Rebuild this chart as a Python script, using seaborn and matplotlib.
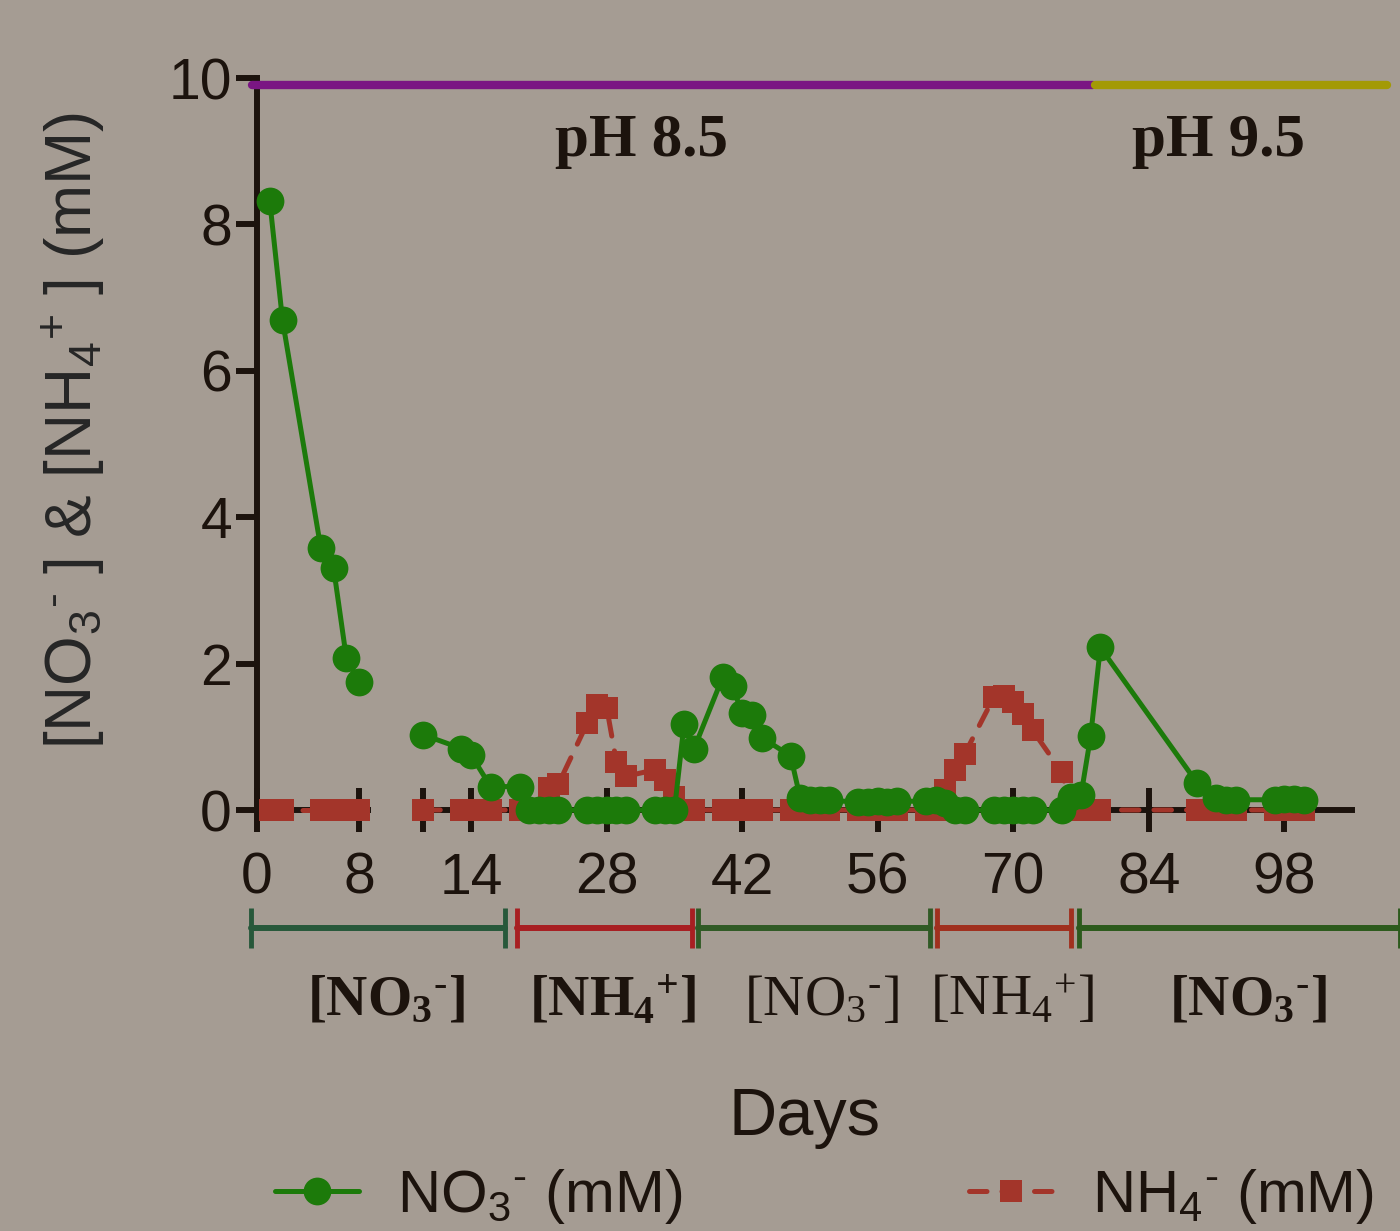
import numpy as np
import pandas as pd
import matplotlib
matplotlib.use("Agg")
import matplotlib.pyplot as plt
from matplotlib.lines import Line2D
import seaborn as sns

# ---------------- data ----------------
days = [1, 2, 5, 6, 7, 8,
        9, 13, 14, 16, 19, 20, 21, 22, 23, 26, 27, 28, 29, 30, 33, 34, 35, 36, 37,
        40, 41, 42, 43, 44, 47, 48, 49, 50, 51, 54, 55, 56, 57, 58, 61, 62, 63, 64, 65,
        68, 69, 70, 71, 72, 75, 76, 77, 78, 79, 89, 91, 92, 93, 97, 98, 99, 100]
no3 = [8.32, 6.69, 3.58, 3.31, 2.08, 1.75,
       1.03, 0.84, 0.75, 0.32, 0.32, 0.0, 0.0, 0.0, 0.0, 0.0, 0.0, 0.0, 0.0, 0.0, 0.0, 0.0, 0.0, 1.18, 0.83,
       1.82, 1.69, 1.32, 1.30, 0.99, 0.74, 0.16, 0.14, 0.14, 0.13, 0.11, 0.11, 0.12, 0.11, 0.12, 0.12, 0.13, 0.10, 0.0, 0.0,
       0.0, 0.0, 0.0, 0.0, 0.0, 0.0, 0.18, 0.20, 1.01, 2.22, 0.37, 0.16, 0.14, 0.14, 0.14, 0.15, 0.15, 0.14]
nh4 = [0, 0, 0, 0, 0, 0,
       0, 0, 0, 0, 0, 0, 0, 0.30, 0.35, 1.19, 1.43, 1.40, 0.66, 0.46, 0.55, 0.41, 0.18, 0, 0,
       0, 0, 0, 0, 0, 0, 0, 0, 0, 0, 0, 0, 0, 0, 0, 0, 0, 0.27, 0.54, 0.77,
       1.54, 1.56, 1.47, 1.31, 1.09, 0.52, 0, 0, 0, 0, 0, 0, 0, 0, 0, 0, 0, 0]

break_day = 8.5
left_ticks = [0, 8]
right_ticks = [9, 14, 28, 42, 56, 70, 84, 98]
right_ticklabels = ["", "14", "28", "42", "56", "70", "84", "98"]
y_ticks = [0, 2, 4, 6, 8, 10]

ph_labels = ["pH 8.5", "pH 9.5"]
ph_spans = [(-0.4, 78.2), (78.5, 108.6)]
ph_level = 9.9
ph_label_days = [31.6, 91.2]

HY = "\u2010"  # short hyphen used as superscript charge sign
phase_labels = [r"[NO$_3$$^{%s}$]" % HY, r"[NH$_4$$^{+}$]", r"[NO$_3$$^{%s}$]" % HY,
                r"[NH$_4$$^{+}$]", r"[NO$_3$$^{%s}$]" % HY]
phase_spans = [(-0.5, 17.5), (18.7, 36.8), (37.4, 61.4), (62.1, 76.0), (76.8, 110.0)]
phase_bold = [True, True, False, False, True]

series_labels = [r"NO$_3$$^{%s}$ (mM)" % HY, r"NH$_4$$^{%s}$ (mM)" % HY]
y_label = r"[NO$_3$$^{%s}$ ] & [NH$_4$$^{+}$ ] (mM)" % HY

# ---------------- style ----------------
BG = "#a59c93"
INK = "#1c130d"
GREEN = "#1c7a0a"
RED = "#a3352a"
PURPLE = "#7a1683"
OLIVE = "#a39a05"
PHASE_COLORS = ["#27583a", "#a81f22", "#305a25", "#a0301e", "#2c5a1c"]

sns.set_theme(style="ticks")
plt.rcParams["font.family"] = ["Liberation Sans", "DejaVu Sans"]
plt.rcParams["mathtext.default"] = "regular"
plt.rcParams["axes.edgecolor"] = INK
plt.rcParams["xtick.color"] = INK
plt.rcParams["ytick.color"] = INK
plt.rcParams["text.color"] = INK

W, H = 1400, 1231
fig = plt.figure(figsize=(W / 100, H / 100), dpi=100, facecolor=BG)

y0 = (H - 810) / H
hgt = 732 / H
ax_l = fig.add_axes([257 / W, y0, 111 / W, hgt])
ax_r = fig.add_axes([416 / W, y0, 936 / W, hgt])

df = pd.DataFrame({"day": days, "no3": no3, "nh4": nh4})
parts = {ax_l: df[df["day"] < break_day], ax_r: df[df["day"] > break_day]}

for ax, d in parts.items():
    ax.set_facecolor("none")
    sns.lineplot(data=d, x="day", y="nh4", ax=ax, color=RED, marker="s", markersize=16,
                 markeredgewidth=0, linewidth=3.6, linestyle=(0, (3.5, 3)),
                 dash_capstyle="round", clip_on=False, zorder=3, label=series_labels[1])
    sns.lineplot(data=d, x="day", y="no3", ax=ax, color=GREEN, marker="o", markersize=20,
                 markeredgewidth=0, linewidth=3.6, clip_on=False, zorder=4,
                 label=series_labels[0])
    if ax.get_legend() is not None:
        ax.get_legend().remove()
    ax.set_ylim(0, 10)
    ax.set_xlabel("")
    ax.set_ylabel("")
    for s in ["top", "right"]:
        ax.spines[s].set_visible(False)
    ax.spines["bottom"].set_linewidth(4.3)
    ax.spines["left"].set_linewidth(4.3)
    ax.tick_params(axis="x", direction="inout", length=32, width=4.3, labelsize=41, pad=14)
    ax.tick_params(axis="y", direction="out", length=15, width=4.3, labelsize=41, pad=3)

ax_l.set_xlim(0, 8.7)
ax_r.set_xlim(8.3, 105)
ax_l.set_xticks(left_ticks)
ax_l.set_xticklabels([str(t) for t in left_ticks])
ax_r.set_xticks(right_ticks)
ax_r.set_xticklabels(right_ticklabels)
ax_l.set_yticks(y_ticks)
ax_l.set_yticklabels([str(t) for t in y_ticks])
ax_r.spines["left"].set_visible(False)
ax_r.set_yticks([])

ax_l.set_ylabel(y_label, fontsize=46, va="center")
ax_l.yaxis.set_label_coords((73 - 257) / 111, (810 - 430) / 732)

fig.text(805 / W, 1 - 1118 / H, "Days", ha="center", va="center", fontsize=48)


def day_to_figx(day):
    ax = ax_l if day < break_day else ax_r
    return ax.transData.transform((day, 0))[0] / (fig.dpi * fig.get_figwidth())


def level_to_figy(v):
    return ax_l.transData.transform((0, v))[1] / (fig.dpi * fig.get_figheight())


# pH bars
for (a, b), col, lab, ld in zip(ph_spans, [PURPLE, OLIVE], ph_labels, ph_label_days):
    yy = level_to_figy(ph_level)
    fig.add_artist(Line2D([day_to_figx(a), day_to_figx(b)], [yy, yy], color=col,
                          linewidth=6, solid_capstyle="round", transform=fig.transFigure,
                          zorder=5))
    ax_r.text(ld, 8.93, lab, ha="center", va="baseline", fontsize=44,
              fontfamily="Liberation Serif", fontweight="bold", color=INK)

# feeding phase bars
bar_y = 1 - 928 / H
lab_y = 1 - 1015 / H
for (a, b), col, lab, bold in zip(phase_spans, PHASE_COLORS, phase_labels, phase_bold):
    xa, xb = day_to_figx(a), day_to_figx(b)
    fig.add_artist(Line2D([xa, xb], [bar_y, bar_y], color=col, linewidth=4.3,
                          marker="|", markersize=29, markeredgewidth=3.5,
                          transform=fig.transFigure))
    fig.text((xa + xb) / 2 + 8 / W, lab_y, lab, ha="center", va="baseline", fontsize=41,
             fontfamily="Liberation Serif", fontweight="bold" if bold else "normal")

# legend
handles, labels = ax_r.get_legend_handles_labels()
order = [labels.index(series_labels[0]), labels.index(series_labels[1])]
fig.legend([handles[i] for i in order], [labels[i] for i in order],
           loc="center left", bbox_to_anchor=(275 / W, 1 - 1196 / H), ncol=2,
           frameon=False, fontsize=43, handlelength=1.4, handletextpad=0.65,
           columnspacing=4.8, borderpad=0, borderaxespad=0)

fig.savefig("out.png", dpi=100, facecolor=BG)
